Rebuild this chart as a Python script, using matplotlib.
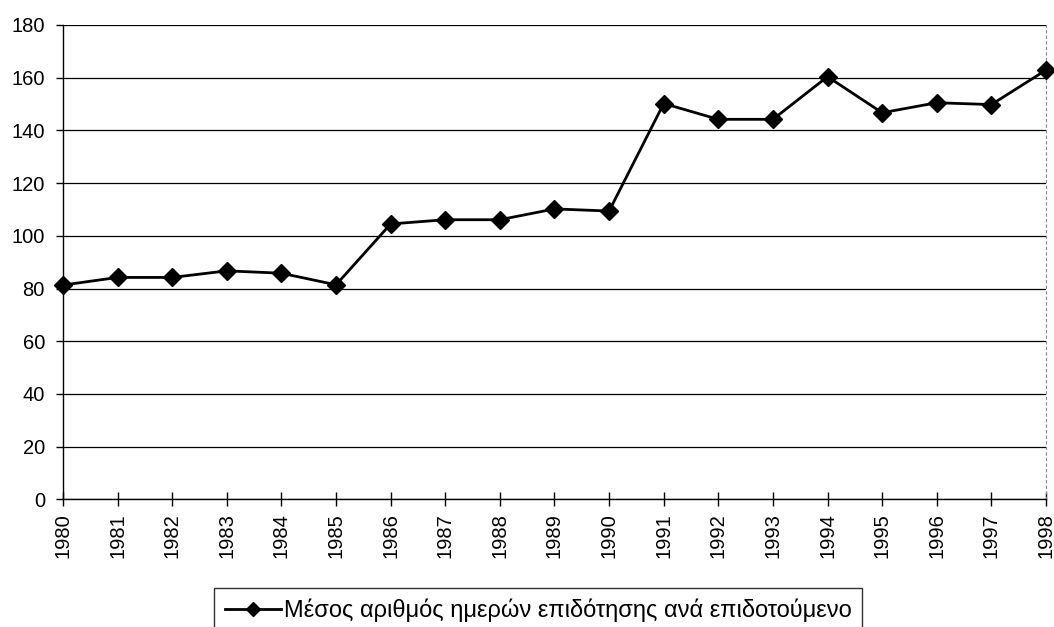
import matplotlib
matplotlib.use("Agg")
import matplotlib.pyplot as plt

years = [1980, 1981, 1982, 1983, 1984, 1985, 1986, 1987, 1988, 1989,
         1990, 1991, 1992, 1993, 1994, 1995, 1996, 1997, 1998]
values = [81.3, 84.2, 84.2, 86.7, 85.8, 81.4, 104.5, 106.1, 106.1, 110.2,
          109.4, 150.2, 144.2, 144.2, 160.4, 146.7, 150.5, 149.8, 162.9]
yticks = [0, 20, 40, 60, 80, 100, 120, 140, 160, 180]
series_label = "Μέσος αριθμός ημερών επιδότησης ανά επιδοτούμενο"

plt.rcParams['font.family'] = ['Liberation Sans', 'DejaVu Sans']

fig = plt.figure(figsize=(10.54, 6.27), dpi=100)
ax = fig.add_axes([63/1054, 1-499.3/627, (1046-63)/1054, (499.3-25)/627])

ax.plot(years, values, color='black', linewidth=2.0, marker='D',
        markersize=9.5, markerfacecolor='black', markeredgecolor='black',
        label=series_label, zorder=3, clip_on=False)

ax.set_xlim(years[0], years[-1])
ax.set_ylim(0, 180)
ax.set_yticks(yticks)
ax.set_xticks(years)
ax.set_xticklabels([str(y) for y in years], rotation=90)
ax.yaxis.grid(True, color='black', linewidth=0.9)
ax.set_axisbelow(True)

ax.spines['top'].set_visible(False)
ax.spines['right'].set_color('#888888')
ax.spines['right'].set_linestyle((0, (2, 3)))
ax.spines['right'].set_linewidth(0.8)
ax.spines['left'].set_linewidth(1.0)
ax.spines['bottom'].set_linewidth(1.0)

ax.tick_params(axis='x', direction='inout', length=10, width=1, labelsize=14.5, pad=5)
ax.tick_params(axis='y', direction='out', length=5, width=1, labelsize=14.5, pad=8)

leg = fig.legend(loc='upper center', bbox_to_anchor=(538/1054, 1-588/627),
                 frameon=True, fancybox=False, fontsize=17,
                 handlelength=2.4, borderpad=0.45, handletextpad=0.1,
                 borderaxespad=0, markerscale=0.8)
leg.get_frame().set_edgecolor('black')
leg.get_frame().set_linewidth(1.0)

fig.savefig('out.png', dpi=100)
